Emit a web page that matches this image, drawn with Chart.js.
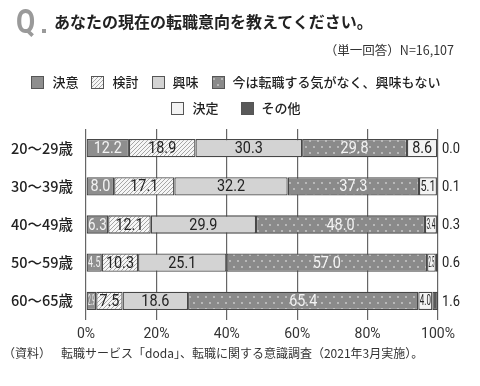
<!DOCTYPE html>
<html lang="ja">
<head>
<meta charset="utf-8">
<script src="https://cdn.jsdelivr.net/npm/chart.js@4.4.1/dist/chart.umd.min.js"></script>
<style>
  html, body { margin: 0; padding: 0; background: #fff; }
  #wrap { position: relative; width: 480px; height: 386px; overflow: hidden;
          font-family: "Noto Sans CJK JP", "Noto Sans", sans-serif; color: #222; }
  #chart { position: absolute; left: 0; top: 0; }
  .q { position: absolute; left: 16px; top: 3px; font: bold 34px/36px Roboto, "Noto Sans", sans-serif; color: #9a9a9a;
       transform: scaleX(0.82); transform-origin: left top; }
  .qdot { position: absolute; left: 42px; top: 29px; width: 4px; height: 4px; background: #9a9a9a; }
  .title { position: absolute; left: 54px; top: 11px; font-weight: 700; font-size: 16px; line-height: 20px; white-space: nowrap; }
  .sub { position: absolute; right: 26px; top: 42px; font-size: 12.5px; line-height: 16px; color: #333; white-space: nowrap; }
  .legend { position: absolute; left: 0; width: 472px; display: flex; justify-content: center;
            font-size: 13px; font-weight: 500; line-height: 16px; white-space: nowrap; }
  .legend span.item { display: inline-flex; align-items: center; }
  .legend canvas { margin-right: 8px; }
  #row1 { top: 74px; } #row1 span.item + span.item { margin-left: 13px; }
  #row2 { top: 100px; } #row2 span.item + span.item { margin-left: 22px; }
  .src { position: absolute; top: 345px; font-size: 12px; line-height: 16px; color: #333; white-space: nowrap; }
</style>
</head>
<body>
<div id="wrap">
  <canvas id="chart" width="480" height="386"></canvas>
  <div class="q">Q</div><div class="qdot"></div>
  <div class="title">あなたの現在の転職意向を教えてください。</div>
  <div class="sub">（単一回答）N=16,107</div>
  <div class="legend" id="row1"></div>
  <div class="legend" id="row2"></div>
  <div class="src" style="left:3px">（資料）</div>
  <div class="src" style="left:61px">転職サービス「doda」、転職に関する意識調査（2021年3月実施）。</div>
</div>
<script>
// 転職意向 by age group, % of respondents
const ageGroups = ['20〜29歳', '30〜39歳', '40〜49歳', '50〜59歳', '60〜65歳'];
const seriesNames = ['決意', '検討', '興味', '今は転職する気がなく、興味もない', '決定', 'その他'];
const ketsui   = [12.2, 8.0, 6.3, 4.5, 2.9];
const kentou   = [18.9, 17.1, 12.1, 10.3, 7.5];
const kyoumi   = [30.3, 32.2, 29.9, 25.1, 18.6];
const konoMama = [29.8, 37.3, 48.0, 57.0, 65.4];
const kettei   = [8.6, 5.1, 3.4, 2.5, 4.0];
const sonota   = [0.0, 0.1, 0.3, 0.6, 1.6];
const xTicks   = [0, 20, 40, 60, 80, 100];

const $ = (id) => document.getElementById(id);

function tile(w, h, draw) {
  const c = document.createElement('canvas');
  c.width = w; c.height = h;
  const g = c.getContext('2d');
  draw(g);
  return g.createPattern(c, 'repeat');
}

const hatch = tile(4, 4, (g) => {
  g.fillStyle = '#f6f6f6'; g.fillRect(0, 0, 4, 4);
  g.strokeStyle = '#a6a6a6'; g.lineWidth = 1;
  g.beginPath();
  g.moveTo(-1, 5); g.lineTo(5, -1);
  g.moveTo(-1, 1); g.lineTo(1, -1);
  g.moveTo(3, 5); g.lineTo(5, 3);
  g.stroke();
});

const dots = tile(8, 12, (g) => {
  g.fillStyle = '#8a8a8a'; g.fillRect(0, 0, 8, 12);
  g.fillStyle = '#cfcfcf';
  [[2, 3], [6, 9]].forEach(([x, y]) => { g.beginPath(); g.arc(x, y, 0.9, 0, Math.PI * 2); g.fill(); });
});

const fills = ['#8e8e8e', hatch, '#d3d3d3', dots, '#f3f3f3', '#595959'];
const labelColors = ['#f4f4f4', '#222', '#222', '#f4f4f4', '#222'];
const values = [ketsui, kentou, kyoumi, konoMama, kettei, sonota];

// legend (two centred rows, like the print original)
seriesNames.forEach((name, i) => {
  const item = document.createElement('span');
  item.className = 'item';
  const sw = document.createElement('canvas');
  sw.width = 13; sw.height = 13;
  const g = sw.getContext('2d');
  g.fillStyle = fills[i]; g.fillRect(0, 0, 13, 13);
  g.strokeStyle = '#555'; g.lineWidth = 1; g.strokeRect(0.5, 0.5, 12, 12);
  item.appendChild(sw);
  item.appendChild(document.createTextNode(name));
  $(i < 4 ? 'row1' : 'row2').appendChild(item);
});

function drawSqueezed(ctx, text, x, y, maxW, sx) {
  const w = ctx.measureText(text).width * sx;
  const s = w > maxW ? sx * maxW / w : sx;
  ctx.save();
  ctx.translate(x, y);
  ctx.scale(s, 1);
  ctx.fillText(text, 0, 0);
  ctx.restore();
}

const segLabels = {
  id: 'segLabels',
  afterDatasetsDraw(chart) {
    const ctx = chart.ctx;
    const area = chart.chartArea;
    ctx.save();
    ctx.textBaseline = 'middle';
    chart.data.datasets.forEach((ds, i) => {
      const meta = chart.getDatasetMeta(i);
      meta.data.forEach((bar, j) => {
        const v = ds.data[j];
        const txt = v.toFixed(1);
        if (i === 5) {
          ctx.font = '15px Roboto, sans-serif';
          ctx.fillStyle = '#222';
          ctx.textAlign = 'left';
          drawSqueezed(ctx, txt, area.right + 4, bar.y + 1, 40, 0.86);
          return;
        }
        const left = Math.min(bar.x, bar.base), right = Math.max(bar.x, bar.base);
        const w = right - left;
        ctx.font = (w < 18 ? '14px' : '16px') + ' Roboto, sans-serif';
        ctx.fillStyle = labelColors[i];
        ctx.textAlign = 'center';
        drawSqueezed(ctx, txt, (left + right) / 2, bar.y + 1, w - 3, 0.9);
      });
    });
    ctx.restore();
  }
};

new Chart($('chart'), {
  type: 'bar',
  data: {
    labels: ageGroups,
    datasets: seriesNames.map((name, i) => ({
      label: name,
      data: values[i],
      backgroundColor: fills[i],
      borderColor: '#474747',
      borderWidth: 1.3,
      borderSkipped: false,
      barPercentage: 0.48,
      categoryPercentage: 1
    }))
  },
  options: {
    indexAxis: 'y',
    responsive: false,
    animation: false,
    layout: { padding: { top: 129, right: 42, bottom: 36, left: 0 } },
    plugins: { legend: { display: false }, tooltip: { enabled: false } },
    scales: {
      x: {
        stacked: true, min: 0, max: 100,
        afterBuildTicks: (s) => { s.ticks = xTicks.map(v => ({ value: v })); },
        afterFit: (s) => { s.height = 30; },
        grid: { color: '#666', lineWidth: 1.2, drawTicks: false },
        border: { display: false },
        ticks: { padding: 6, color: '#333', font: { family: 'Roboto', size: 14 }, callback: (v) => v + '%' }
      },
      y: {
        stacked: true,
        afterFit: (s) => { s.width = 86; },
        grid: { display: false, drawTicks: false },
        border: { display: false },
        ticks: { padding: 13, color: '#222', font: { family: 'Noto Sans CJK JP', size: 14.5, weight: '500' } }
      }
    }
  },
  plugins: [segLabels]
});
</script>
</body>
</html>
